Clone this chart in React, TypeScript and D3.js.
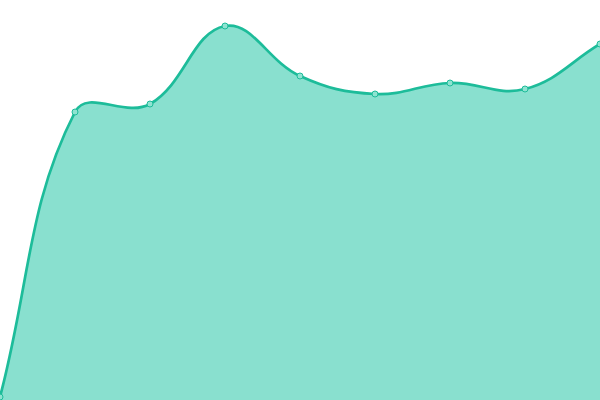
import React, { useEffect, useRef } from 'react';
import * as d3 from 'd3';

// chart values (one per category, evenly spaced across the width)
const categories = ['A', 'B', 'C', 'D', 'E', 'F', 'G', 'H', 'I'];
const values = [3, 288, 296, 374, 324, 306, 317, 311, 356];

// spline with tension, control points scaled by neighbouring segment lengths
function splinePath(pts: Array<[number, number]>, tension: number, closeTo?: number) {
  const cps = pts.map((cur, i) => {
    const prev = pts[Math.max(i - 1, 0)];
    const next = pts[Math.min(i + 1, pts.length - 1)];
    const d01 = Math.hypot(cur[0] - prev[0], cur[1] - prev[1]);
    const d12 = Math.hypot(next[0] - cur[0], next[1] - cur[1]);
    let s01 = d01 / (d01 + d12);
    let s12 = d12 / (d01 + d12);
    if (isNaN(s01)) s01 = 0;
    if (isNaN(s12)) s12 = 0;
    const fa = tension * s01;
    const fb = tension * s12;
    return {
      p: [cur[0] - fa * (next[0] - prev[0]), cur[1] - fa * (next[1] - prev[1])],
      n: [cur[0] + fb * (next[0] - prev[0]), cur[1] + fb * (next[1] - prev[1])]
    };
  });
  const path = d3.path();
  path.moveTo(pts[0][0], pts[0][1]);
  for (let i = 1; i < pts.length; i++) {
    path.bezierCurveTo(cps[i - 1].n[0], cps[i - 1].n[1], cps[i].p[0], cps[i].p[1], pts[i][0], pts[i][1]);
  }
  if (closeTo !== undefined) {
    path.lineTo(pts[pts.length - 1][0], closeTo);
    path.lineTo(pts[0][0], closeTo);
    path.closePath();
  }
  return path.toString();
}

const App: React.FC = () => {
  const ref = useRef<SVGSVGElement>(null);

  useEffect(() => {
    document.body.style.margin = '0';
    if (!ref.current) return;
    const width = 600;
    const height = 400;

    const svg = d3.select(ref.current);
    svg.selectAll('*').remove();

    const x = d3.scalePoint<string>().domain(categories).range([0, width]);
    const y = d3.scaleLinear().domain([0, 400]).range([height, 0]);

    const pts: Array<[number, number]> = categories.map((c, i) => [x(c) as number, y(values[i])]);

    svg.append('path')
      .attr('fill', '#89e0cf')
      .attr('d', splinePath(pts, 0.4, height));

    svg.append('path')
      .attr('fill', 'none')
      .attr('stroke', '#1dbc9a')
      .attr('stroke-width', 2.7)
      .attr('d', splinePath(pts, 0.4));

    svg.append('g')
      .selectAll('circle')
      .data(pts)
      .join('circle')
      .attr('cx', d => d[0])
      .attr('cy', d => d[1])
      .attr('r', 3)
      .attr('fill', '#8fe3d1')
      .attr('stroke', '#1dbc9a')
      .attr('stroke-width', 1);
  }, []);

  return (
    <svg ref={ref} width={600} height={400} style={{ display: 'block' }} />
  );
};

export default App;
